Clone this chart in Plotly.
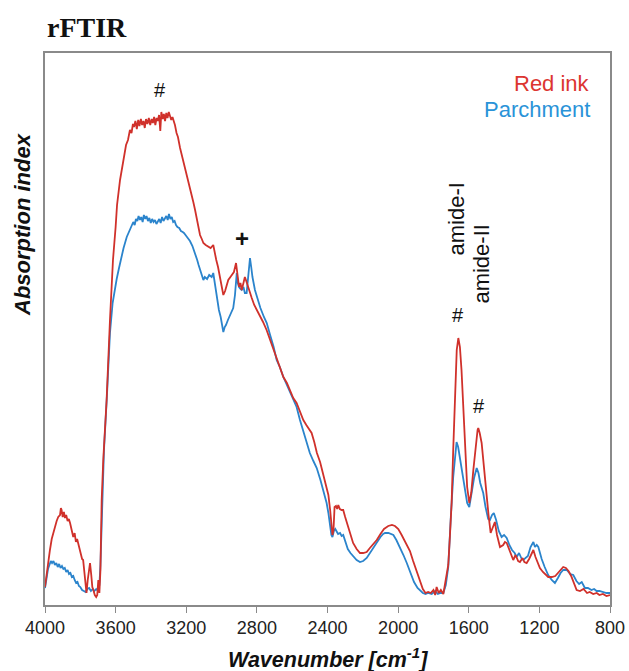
import plotly.graph_objects as go

red_wn = [4000,3992,3983,3972,3962,3953,3943,3934,3925,3915,3910,3906,3900,3893,3887,3880,3872,3865,3858,3850,3840,3832,3825,3818,3812,3805,3798,3790,3784,3776,3770,3765,3758,3750,3745,3738,3732,3726,3718,3710,3704,3698,3692,3686,3679,3670,3651,3632,3615,3600,3592,3575,3557,3541,3530,3519,3510,3502,3496,3488,3480,3472,3465,3457,3450,3442,3435,3428,3420,3412,3404,3396,3389,3382,3375,3368,3361,3354,3347,3341,3334,3327,3320,3313,3306,3299,3292,3285,3278,3270,3264,3255,3247,3235,3225,3214,3205,3197,3185,3172,3160,3150,3140,3130,3122,3112,3103,3090,3075,3062,3047,3038,3030,3020,3008,2998,2990,2980,2970,2962,2950,2940,2930,2918,2910,2901,2893,2886,2876,2868,2862,2850,2840,2829,2815,2800,2782,2765,2745,2726,2710,2690,2669,2650,2630,2612,2594,2575,2556,2537,2520,2505,2490,2475,2460,2442,2425,2410,2395,2385,2378,2372,2366,2360,2352,2345,2339,2330,2320,2311,2300,2290,2273,2255,2235,2216,2198,2178,2160,2140,2121,2100,2080,2056,2035,2018,1999,1980,1960,1945,1933,1915,1895,1876,1860,1845,1830,1815,1800,1790,1782,1770,1758,1744,1735,1725,1716,1707,1697,1688,1678,1668,1659,1650,1641,1631,1621,1609,1597,1586,1574,1560,1550,1546,1538,1527,1515,1499,1488,1476,1465,1452,1440,1423,1405,1395,1385,1370,1358,1348,1335,1320,1310,1295,1285,1272,1258,1245,1234,1222,1210,1197,1180,1165,1150,1130,1110,1090,1075,1065,1050,1035,1020,1005,989,970,950,930,915,895,875,860,840,820,800]
red_val = [0.18,0.30,0.42,0.55,0.66,0.72,0.80,0.84,0.88,0.90,0.97,0.95,0.88,0.93,0.87,0.90,0.84,0.86,0.82,0.75,0.68,0.72,0.63,0.66,0.62,0.55,0.52,0.46,0.45,0.30,0.18,0.12,0.25,0.38,0.42,0.30,0.18,0.15,0.10,0.08,0.10,0.25,0.12,0.35,1.05,1.45,2.05,2.85,3.45,3.78,4.00,4.25,4.45,4.60,4.65,4.75,4.72,4.81,4.78,4.84,4.76,4.85,4.79,4.86,4.80,4.84,4.77,4.86,4.81,4.87,4.80,4.86,4.82,4.88,4.80,4.87,4.84,4.90,4.74,4.93,4.86,4.91,4.84,4.92,4.87,4.93,4.89,4.85,4.88,4.84,4.80,4.72,4.68,4.57,4.50,4.42,4.36,4.31,4.20,4.13,4.03,3.95,3.85,3.78,3.70,3.66,3.62,3.60,3.58,3.57,3.60,3.50,3.45,3.38,3.25,3.15,3.10,3.14,3.20,3.25,3.28,3.31,3.33,3.42,3.30,3.18,3.22,3.15,3.22,3.28,3.25,3.18,3.12,3.07,3.00,2.95,2.90,2.83,2.75,2.66,2.58,2.48,2.37,2.28,2.22,2.14,2.07,2.02,1.93,1.85,1.80,1.76,1.72,1.63,1.52,1.43,1.30,1.20,1.10,0.95,0.78,0.70,0.75,0.98,0.99,0.96,1.00,0.96,0.95,0.95,0.88,0.82,0.72,0.62,0.56,0.52,0.52,0.53,0.57,0.61,0.65,0.71,0.76,0.79,0.80,0.79,0.76,0.70,0.63,0.58,0.54,0.44,0.33,0.24,0.16,0.12,0.13,0.12,0.15,0.10,0.18,0.12,0.15,0.11,0.20,0.32,0.40,0.68,1.02,1.55,2.18,2.55,2.67,2.58,2.35,1.95,1.52,1.18,1.02,1.12,1.35,1.60,1.75,1.77,1.72,1.62,1.38,1.12,0.90,0.72,0.78,0.83,0.70,0.58,0.60,0.63,0.62,0.55,0.48,0.45,0.50,0.44,0.43,0.47,0.43,0.42,0.46,0.52,0.55,0.48,0.42,0.37,0.33,0.30,0.28,0.28,0.29,0.33,0.36,0.38,0.37,0.34,0.29,0.22,0.15,0.14,0.16,0.12,0.13,0.11,0.12,0.10,0.11,0.09,0.10]

blue_wn = [4000,3992,3983,3975,3967,3960,3952,3944,3936,3928,3920,3912,3904,3896,3888,3880,3872,3864,3856,3848,3840,3832,3824,3816,3808,3800,3790,3780,3770,3760,3750,3740,3730,3720,3710,3700,3692,3686,3677,3666,3649,3632,3617,3605,3594,3582,3570,3555,3537,3520,3510,3500,3492,3485,3477,3470,3462,3455,3447,3440,3432,3425,3417,3409,3401,3393,3385,3377,3369,3361,3353,3345,3337,3329,3321,3313,3305,3298,3290,3282,3274,3266,3258,3250,3240,3230,3220,3213,3200,3190,3179,3165,3150,3138,3130,3122,3112,3103,3095,3082,3070,3056,3047,3038,3026,3015,3005,2999,2990,2982,2975,2964,2950,2940,2934,2924,2914,2908,2901,2893,2886,2876,2868,2858,2848,2839,2832,2825,2811,2795,2780,2760,2744,2725,2705,2688,2670,2650,2630,2612,2595,2575,2556,2537,2520,2500,2480,2461,2440,2420,2405,2395,2385,2378,2372,2364,2356,2348,2340,2329,2320,2311,2300,2285,2270,2254,2235,2216,2198,2178,2160,2140,2120,2100,2085,2074,2055,2040,2027,2010,1990,1970,1951,1930,1910,1890,1876,1860,1845,1830,1810,1790,1775,1760,1744,1730,1716,1708,1701,1688,1678,1669,1660,1650,1641,1630,1621,1609,1597,1585,1570,1555,1545,1535,1518,1505,1490,1480,1468,1458,1445,1430,1414,1400,1385,1370,1355,1340,1329,1315,1300,1291,1278,1265,1250,1240,1234,1225,1215,1206,1195,1187,1170,1150,1130,1112,1095,1080,1065,1045,1025,1008,990,975,960,942,925,905,890,876,860,840,820,800]
blue_val = [0.17,0.27,0.36,0.40,0.44,0.42,0.44,0.40,0.42,0.38,0.41,0.37,0.39,0.36,0.37,0.33,0.35,0.31,0.32,0.28,0.29,0.25,0.22,0.23,0.19,0.18,0.15,0.14,0.13,0.16,0.17,0.14,0.16,0.14,0.16,0.14,0.20,0.40,1.05,1.55,2.10,2.72,3.02,3.17,3.26,3.36,3.46,3.57,3.68,3.75,3.79,3.83,3.80,3.86,3.84,3.89,3.85,3.88,3.83,3.90,3.86,3.89,3.84,3.87,3.82,3.86,3.83,3.85,3.81,3.84,3.86,3.82,3.88,3.84,3.86,3.89,3.85,3.91,3.86,3.88,3.83,3.84,3.80,3.78,3.77,3.74,3.73,3.72,3.69,3.67,3.64,3.59,3.52,3.45,3.40,3.36,3.30,3.25,3.28,3.26,3.30,3.28,3.32,3.20,3.05,2.95,2.88,2.83,2.73,2.78,2.80,2.85,2.90,2.94,2.97,3.10,3.32,3.22,3.18,3.16,3.15,3.18,3.12,3.12,3.30,3.47,3.38,3.28,3.15,3.05,2.97,2.88,2.82,2.70,2.58,2.45,2.38,2.28,2.20,2.13,2.05,1.98,1.85,1.73,1.62,1.52,1.44,1.37,1.25,1.12,1.02,0.92,0.80,0.70,0.68,0.74,0.76,0.74,0.71,0.72,0.69,0.70,0.63,0.56,0.52,0.49,0.45,0.43,0.44,0.47,0.52,0.58,0.63,0.68,0.71,0.72,0.72,0.71,0.70,0.65,0.58,0.50,0.42,0.32,0.23,0.17,0.15,0.12,0.11,0.12,0.11,0.14,0.11,0.12,0.12,0.20,0.38,0.60,0.90,1.28,1.50,1.63,1.58,1.47,1.38,1.25,1.15,1.02,0.98,1.10,1.27,1.37,1.32,1.22,1.12,0.98,0.86,0.85,0.90,0.92,0.85,0.74,0.68,0.70,0.67,0.60,0.55,0.52,0.48,0.52,0.46,0.45,0.47,0.49,0.58,0.62,0.63,0.58,0.60,0.58,0.50,0.46,0.38,0.30,0.25,0.22,0.27,0.32,0.35,0.35,0.31,0.30,0.24,0.21,0.23,0.17,0.17,0.15,0.16,0.14,0.14,0.13,0.12,0.12]

x_ticks = [4000, 3600, 3200, 2800, 2400, 2000, 1600, 1200, 800]
series_names = ["Red ink", "Parchment"]

RED = "#d0312b"
BLUE = "#2b84cc"

fig = go.Figure()
fig.add_trace(go.Scatter(x=blue_wn, y=blue_val, mode="lines", name=series_names[1],
                         line=dict(color=BLUE, width=1.8), hoverinfo="skip"))
fig.add_trace(go.Scatter(x=red_wn, y=red_val, mode="lines", name=series_names[0],
                         line=dict(color=RED, width=1.8), hoverinfo="skip"))

axis_font = "Liberation Sans, Arial, sans-serif"
frame = "#8a8a8a"

fig.update_layout(
    template="none",
    width=629, height=671,
    margin=dict(l=45, r=19, t=53, b=66, pad=0),
    paper_bgcolor="white", plot_bgcolor="white",
    showlegend=False,
    xaxis=dict(range=[4000, 800], tickvals=x_ticks, ticktext=[str(t) for t in x_ticks],
               ticks="outside", ticklen=6, tickcolor=frame, tickwidth=1.2,
               tickfont=dict(family=axis_font, size=18, color="#222"),
               showline=True, mirror=True, linecolor=frame, linewidth=1.5,
               showgrid=False, zeroline=False, automargin=False),
    yaxis=dict(range=[0, 5.52], showticklabels=False, ticks="",
               showline=True, mirror=True, linecolor=frame, linewidth=1.5,
               showgrid=False, zeroline=False, automargin=False),
)

ann = []
ann.append(dict(text="<b>rFTIR</b>", xref="paper", yref="paper", x=0, y=1.047,
                xanchor="left", yanchor="middle", showarrow=False,
                font=dict(family="Liberation Serif, Times New Roman, serif", size=28, color="#111")))
ann.append(dict(text="<b><i>Wavenumber [cm<sup>-1</sup>]</i></b>", xref="paper", yref="paper",
                x=0.5, y=-0.0955, xanchor="center", yanchor="middle", showarrow=False,
                font=dict(family=axis_font, size=21.5, color="#111")))
ann.append(dict(text="<b><i>Absorption index</i></b>", xref="paper", yref="paper",
                x=-0.041, y=0.690, xanchor="center", yanchor="middle", textangle=-90,
                showarrow=False, font=dict(family=axis_font, size=22, color="#111")))
ann.append(dict(text=series_names[0], xref="paper", yref="paper", x=0.968, y=0.944,
                xanchor="right", yanchor="middle", showarrow=False,
                font=dict(family=axis_font, size=22, color="#dc3530")))
ann.append(dict(text=series_names[1], xref="paper", yref="paper", x=0.968, y=0.897,
                xanchor="right", yanchor="middle", showarrow=False,
                font=dict(family=axis_font, size=22, color="#2a93d8")))
for txt, xx, yy, sz in [("#", 3349, 5.15, 20), ("#", 1661, 2.90, 20), ("#", 1542, 1.99, 20),
                        ("<b>+</b>", 2884, 3.67, 24)]:
    ann.append(dict(text=txt, x=xx, y=yy, xref="x", yref="y", showarrow=False,
                    xanchor="center", yanchor="middle",
                    font=dict(family=axis_font, size=sz, color="#111")))
ann.append(dict(text="amide-I", x=1675, y=3.86, xref="x", yref="y", showarrow=False,
                textangle=-90, xanchor="center", yanchor="middle",
                font=dict(family=axis_font, size=22, color="#111")))
ann.append(dict(text="amide-II", x=1533, y=3.41, xref="x", yref="y", showarrow=False,
                textangle=-90, xanchor="center", yanchor="middle",
                font=dict(family=axis_font, size=22, color="#111")))
fig.update_layout(annotations=ann)

fig.write_html("out.html")
